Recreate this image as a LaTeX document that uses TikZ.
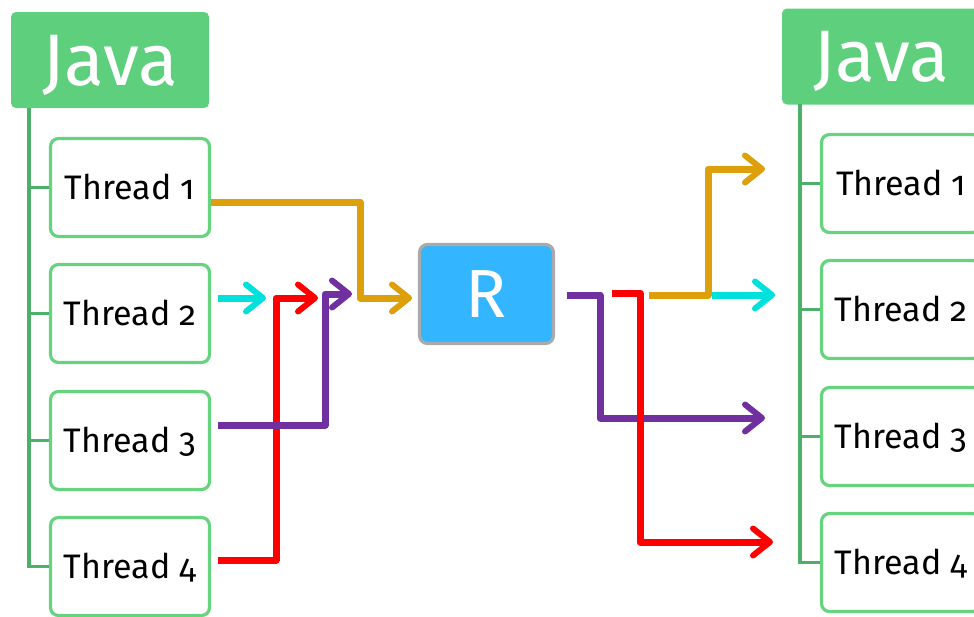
\documentclass[tikz,border=0pt]{standalone}
\usepackage{fontspec}
\setmainfont{Fira Sans}[Numbers=OldStyle]
\usetikzlibrary{arrows.meta}
\definecolor{javagreen}{HTML}{5ED07D}
\definecolor{boxgreen}{HTML}{66D37F}
\definecolor{trunkgreen}{HTML}{4DB06A}
\definecolor{goldline}{HTML}{DDA00A}
\definecolor{cyanline}{HTML}{00E0DC}
\definecolor{redline}{HTML}{FF0000}
\definecolor{purpleline}{HTML}{7030A0}
\definecolor{rfill}{HTML}{33B6FF}
\definecolor{rborder}{HTML}{AAAAAA}
\begin{document}
\begin{tikzpicture}[x=1pt,y=-1pt,
  java/.style={fill=javagreen, rounded corners=5pt, text=white, font=\fontsize{73}{73}\selectfont,
    minimum width=198pt, minimum height=96pt, inner sep=0pt, text height=50pt, text depth=0pt},
  thread/.style={draw=boxgreen, line width=3.2pt, fill=white, rounded corners=8pt,
    minimum width=159pt, minimum height=98pt, inner sep=0pt, font=\fontsize{34}{34}\selectfont,
    text height=23.5pt, text depth=0pt},
  rbox/.style={draw=rborder, line width=3.2pt, fill=rfill, rounded corners=8pt, text=white,
    minimum width=134pt, minimum height=99pt, inner sep=0pt, font=\fontsize{68}{68}\selectfont,
    text height=47pt, text depth=0pt},
  trunk/.style={draw=trunkgreen, line width=3.2pt},
  flow/.style={line width=7pt, line join=round,
    -{Straight Barb[length=17pt,width=27pt,line width=6pt,round]}},
]
\useasboundingbox (0,0) rectangle (974,616);

% left side
\node[java] (ljava) at (110,60) {Java};
\node[thread] (l1) at (130,187.5) {Thread 1};
\node[thread] (l2) at (130,313.5) {Thread 2};
\node[thread] (l3) at (130,440.5) {Thread 3};
\node[thread] (l4) at (130,566.5) {Thread 4};
\coordinate (ltop) at (29,108);
\coordinate (lbot) at (29,566.5);
\draw[trunk] (ltop) -- (lbot -| ltop) -- (l4.west);
\draw[trunk] (l1.west -| ltop) -- (l1.west);
\draw[trunk] (l2.west -| ltop) -- (l2.west);
\draw[trunk] (l3.west -| ltop) -- (l3.west);

% right side
\node[java] (rjava) at (881,56.5) {Java};
\node[thread] (r1) at (901,183.5) {Thread 1};
\node[thread] (r2) at (901,309.5) {Thread 2};
\node[thread] (r3) at (901,436.5) {Thread 3};
\node[thread] (r4) at (901,562.5) {Thread 4};
\coordinate (rtop) at (800,104);
\draw[trunk] (rtop) -- (r4.west -| rtop) -- (r4.west);
\draw[trunk] (r1.west -| rtop) -- (r1.west);
\draw[trunk] (r2.west -| rtop) -- (r2.west);
\draw[trunk] (r3.west -| rtop) -- (r3.west);

% central resource
\node[rbox] (R) at (486.5,294) {R};

% left flows
\coordinate (g1) at (211,202);  \coordinate (g2) at (412,298);
\coordinate (c1) at (218,298);  \coordinate (c2) at (266,298);
\coordinate (d1) at (218,560);  \coordinate (d2) at (318,298);
\coordinate (p1) at (218,425);  \coordinate (p2) at (352,294);
\draw[flow, draw=goldline] (g1) -- (360,202) -- (360,298) -- (g2);
\draw[flow, draw=cyanline] (c1) -- (c2);
\draw[flow, draw=redline] (d1) -- (276,560) -- (276,298) -- (d2);
\draw[flow, draw=purpleline] (p1) -- (325,425) -- (325,294) -- (p2);

% right flows
\coordinate (rp1) at (567,295); \coordinate (rp2) at (765,418);
\coordinate (rd1) at (612,293); \coordinate (rd2) at (773,542);
\coordinate (rg1) at (649,295); \coordinate (rg2) at (765,169);
\coordinate (rc1) at (712,295); \coordinate (rc2) at (775,295);
\draw[flow, draw=purpleline] (rp1) -- (600,295) -- (600,418) -- (rp2);
\draw[flow, draw=redline] (rd1) -- (640,293) -- (640,542) -- (rd2);
\draw[flow, draw=goldline] (rg1) -- (708,295) -- (708,169) -- (rg2);
\draw[flow, draw=cyanline] (rc1) -- (rc2);
\end{tikzpicture}
\end{document}
